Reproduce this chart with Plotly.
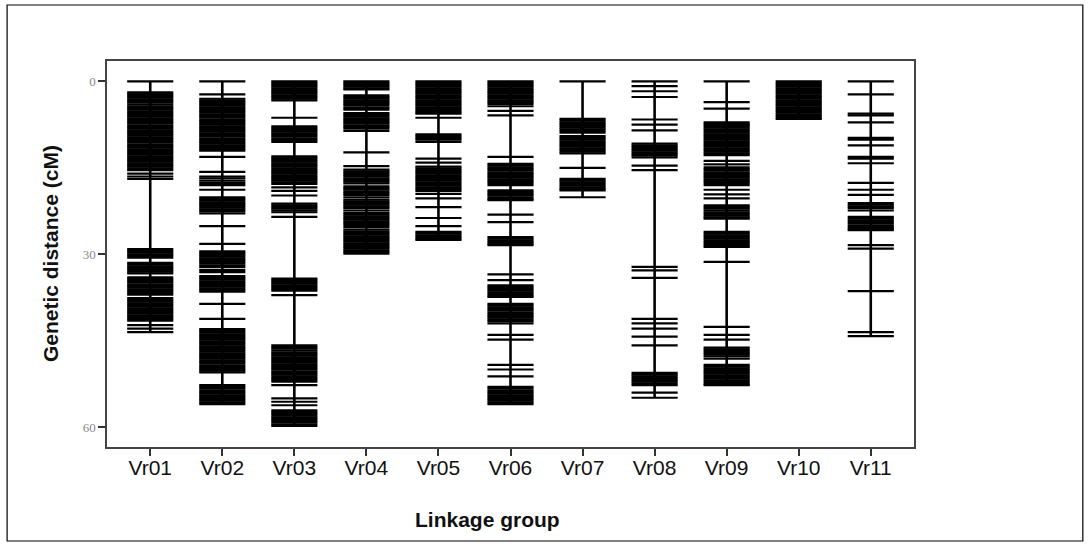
import plotly.graph_objects as go

groups = ["Vr01", "Vr02", "Vr03", "Vr04", "Vr05", "Vr06", "Vr07", "Vr08", "Vr09", "Vr10", "Vr11"]

vr01 = [0.0, 1.9, 2.2, 2.5, 2.8, 3.1, 3.4, 3.7, 4.0, 4.3, 4.6, 4.9, 5.2, 5.5, 5.8, 6.1, 6.4, 6.7, 7.0, 7.3,
        7.6, 7.9, 8.2, 8.5, 8.8, 9.1, 9.4, 9.7, 10.0, 10.3, 10.6, 10.9, 11.2, 11.5, 11.8, 12.1, 12.4, 12.7,
        13.0, 13.3, 13.6, 13.9, 14.2, 14.5, 14.8, 15.1, 15.4, 16.0, 16.5, 16.9, 29.1, 29.4, 29.7, 30.0, 30.3,
        30.6, 31.5, 31.8, 32.1, 32.4, 32.7, 33.0, 33.3, 34.0, 34.3, 34.6, 34.9, 35.2, 35.5, 35.8, 36.1, 36.4,
        36.7, 37.0, 37.6, 37.9, 38.2, 38.5, 38.8, 39.1, 39.4, 39.7, 40.0, 40.3, 40.6, 40.9, 41.2, 41.5, 42.3,
        42.9, 43.5]
vr02 = [0.0, 2.25, 3.0, 3.3, 3.6, 3.9, 4.2, 4.5, 4.8, 5.1, 5.4, 5.7, 6.0, 6.3, 6.6, 6.9, 7.2, 7.5, 7.8, 8.1,
        8.4, 8.7, 9.0, 9.3, 9.6, 9.9, 10.2, 10.5, 10.8, 11.1, 11.4, 11.7, 12.0, 13.1, 15.7, 16.5, 16.8, 17.2,
        17.6, 18.0, 18.8, 20.1, 20.4, 20.7, 21.0, 21.3, 21.6, 21.9, 22.2, 22.5, 22.9, 25.1, 28.2, 29.5, 29.8,
        30.1, 30.4, 30.7, 31.0, 31.3, 31.6, 31.9, 32.2, 32.7, 33.1, 33.8, 34.1, 34.4, 34.7, 35.0, 35.3, 35.6,
        35.9, 36.2, 36.5, 38.6, 41.2, 43.0, 43.3, 43.6, 43.9, 44.2, 44.5, 44.8, 45.1, 45.4, 45.7, 46.0, 46.3,
        46.6, 46.9, 47.2, 47.5, 47.8, 48.1, 48.4, 48.7, 49.0, 49.3, 49.6, 49.9, 50.2, 50.5, 52.7, 53.0, 53.3,
        53.6, 53.9, 54.2, 54.5, 54.8, 55.1, 55.4, 55.7, 56.0]
vr03 = [0.0, 0.3, 0.6, 0.9, 1.2, 1.5, 1.8, 2.1, 2.4, 2.7, 3.0, 3.3, 6.3, 7.8, 8.1, 8.4, 8.7, 9.0, 9.3, 9.6,
        9.9, 10.2, 10.5, 13.0, 13.3, 13.6, 13.9, 14.2, 14.5, 14.8, 15.1, 15.4, 15.7, 16.0, 16.3, 16.6, 16.9,
        17.2, 17.5, 17.8, 18.4, 19.0, 19.8, 21.2, 21.5, 21.8, 22.1, 22.4, 22.7, 23.5, 34.2, 34.5, 34.8, 35.1,
        35.4, 35.7, 36.0, 36.3, 37.1, 45.8, 46.1, 46.4, 46.7, 47.0, 47.3, 47.6, 47.9, 48.2, 48.5, 48.8, 49.1,
        49.4, 49.7, 50.0, 50.3, 50.6, 50.9, 51.2, 51.5, 51.8, 52.1, 52.7, 55.0, 55.6, 56.2, 57.1, 57.4, 57.7,
        58.0, 58.3, 58.6, 58.9, 59.2, 59.5, 59.8]
vr04 = [0.0, 0.3, 0.6, 0.9, 1.2, 1.4, 2.4, 2.7, 3.0, 3.3, 3.6, 3.9, 4.2, 4.6, 4.9, 5.5, 5.8, 6.1, 6.4, 6.7,
        7.0, 7.3, 7.6, 7.9, 8.2, 8.6, 12.3, 14.7, 15.3, 15.6, 15.9, 16.2, 16.5, 16.8, 17.1, 17.4, 17.7, 18.2,
        18.5, 18.8, 19.1, 19.4, 19.7, 20.1, 20.5, 20.8, 21.1, 21.4, 21.7, 22.0, 22.4, 22.8, 23.1, 23.4, 23.7,
        24.0, 24.3, 24.6, 24.9, 25.3, 25.7, 26.0, 26.3, 26.6, 26.9, 27.2, 27.5, 27.8, 28.1, 28.4, 28.7, 29.0,
        29.3, 29.6, 29.9]
vr05 = [0.0, 0.3, 0.6, 0.9, 1.2, 1.5, 1.8, 2.1, 2.4, 2.7, 3.0, 3.3, 3.6, 3.9, 4.2, 4.5, 4.8, 5.1, 5.4, 5.6,
        6.3, 9.2, 9.5, 9.8, 10.1, 10.5, 13.4, 14.1, 14.8, 15.1, 15.4, 15.7, 16.0, 16.3, 16.6, 16.9, 17.2,
        17.5, 17.8, 18.1, 18.4, 18.7, 19.0, 19.5, 20.3, 21.8, 23.7, 25.1, 26.1, 26.4, 26.7, 27.0, 27.3, 27.5]
vr06 = [0.0, 0.3, 0.6, 0.9, 1.2, 1.5, 1.8, 2.1, 2.4, 2.7, 3.0, 3.3, 3.6, 3.9, 4.3, 5.1, 5.9, 13.1, 14.3,
        14.6, 14.9, 15.2, 15.5, 15.8, 16.1, 16.4, 16.7, 17.0, 17.3, 17.6, 18.0, 18.9, 19.2, 19.5, 19.8, 20.1,
        20.4, 20.6, 23.1, 24.4, 27.0, 27.3, 27.6, 27.9, 28.2, 28.4, 33.5, 34.5, 35.4, 35.7, 36.0, 36.3, 36.6,
        36.9, 37.2, 37.4, 38.6, 38.9, 39.2, 39.5, 39.8, 40.1, 40.4, 40.7, 41.0, 41.3, 41.6, 42.0, 44.0, 44.8,
        49.2, 50.0, 51.2, 53.0, 53.3, 53.6, 53.9, 54.2, 54.5, 54.8, 55.1, 55.4, 55.7, 56.0]
vr07 = [0.0, 6.5, 6.8, 7.1, 7.4, 7.7, 8.0, 8.3, 8.6, 8.9, 9.5, 9.8, 10.1, 10.4, 10.7, 11.0, 11.3, 11.6,
        11.9, 12.2, 12.5, 15.0, 16.9, 17.2, 17.5, 17.8, 18.1, 18.4, 18.7, 18.9, 20.1]
vr08 = [0.0, 0.8, 1.7, 2.7, 6.6, 7.5, 8.5, 10.8, 11.1, 11.4, 11.7, 12.0, 12.3, 12.6, 12.9, 13.2, 14.6, 15.4,
        32.2, 32.8, 34.1, 41.2, 42.0, 42.9, 44.3, 45.8, 50.6, 50.9, 51.2, 51.5, 51.8, 52.1, 52.4, 52.7, 54.0,
        54.9]
vr09 = [0.0, 3.6, 4.7, 7.1, 7.4, 7.7, 8.0, 8.3, 8.6, 8.9, 9.2, 9.5, 9.8, 10.1, 10.4, 10.7, 11.0, 11.3, 11.6,
        11.9, 12.2, 12.5, 12.8, 13.8, 14.4, 14.9, 15.2, 15.5, 15.8, 16.1, 16.4, 16.7, 17.0, 17.3, 17.6, 18.0,
        18.8, 19.6, 20.3, 21.5, 21.8, 22.1, 22.4, 22.7, 23.0, 23.3, 23.6, 23.8, 26.1, 26.4, 26.7, 27.0, 27.3,
        27.6, 27.9, 28.2, 28.5, 28.7, 31.3, 42.6, 44.0, 44.8, 46.2, 46.5, 46.8, 47.1, 47.4, 47.7, 48.1, 49.2,
        49.5, 49.8, 50.1, 50.4, 50.7, 51.0, 51.3, 51.6, 51.9, 52.2, 52.5, 52.7]
vr10 = [0.0, 0.3, 0.6, 0.9, 1.2, 1.5, 1.8, 2.1, 2.4, 2.7, 3.0, 3.3, 3.6, 3.9, 4.2, 4.5, 4.8, 5.1, 5.4, 5.7,
        6.0, 6.3, 6.5]
vr11 = [0.0, 2.25, 5.6, 5.9, 7.1, 9.8, 10.1, 11.1, 13.1, 13.4, 14.2, 17.6, 18.8, 19.7, 21.1, 21.4, 21.7,
        22.0, 22.4, 23.5, 23.8, 24.1, 24.4, 24.7, 25.0, 25.3, 25.6, 25.8, 28.4, 29.0, 36.4, 43.5, 44.2]

markers = [vr01, vr02, vr03, vr04, vr05, vr06, vr07, vr08, vr09, vr10, vr11]
y_ticks = [0, 30, 60]

HALF = 0.32
fig = go.Figure()
for i, pos in enumerate(markers):
    # chromosome backbone
    fig.add_trace(go.Scatter(x=[i, i], y=[min(pos), max(pos)], mode="lines",
                             line=dict(color="black", width=2.6), hoverinfo="skip", showlegend=False))
    xs, ys = [], []
    for v in pos:
        xs += [i - HALF, i + HALF, None]
        ys += [v, v, None]
    fig.add_trace(go.Scatter(x=xs, y=ys, mode="lines", line=dict(color="black", width=2.2),
                             name=groups[i], showlegend=False))

fig.update_layout(
    width=1091, height=546,
    margin=dict(l=107, r=177, t=61, b=99),
    paper_bgcolor="white", plot_bgcolor="white",
    font=dict(family="Liberation Sans, Arial, sans-serif", color="#111"),
    xaxis=dict(range=[-0.6, 10.6], tickvals=list(range(len(groups))), ticktext=groups,
               showgrid=False, zeroline=False, showline=True, mirror=True, linecolor="#444", linewidth=1.5,
               ticks="outside", ticklen=7, tickwidth=1.8, tickcolor="#333", ticklabelstandoff=-6,
               tickfont=dict(size=21, color="#111", family="Liberation Sans, Arial, sans-serif")),
    yaxis=dict(range=[63.45, -3.55], tickvals=y_ticks, ticktext=[str(t) for t in y_ticks],
               showgrid=False, zeroline=False, showline=True, mirror=True, linecolor="#444", linewidth=1.5,
               ticks="outside", ticklen=7, tickwidth=1.8, tickcolor="#333",
               tickfont=dict(size=13, color="#888", family="Liberation Serif, Times New Roman, serif")),
    annotations=[
        dict(text="<b>Genetic distance (cM)</b>", xref="paper", yref="paper", x=-0.0705, y=0.5,
             textangle=-90, showarrow=False, xanchor="center", yanchor="middle",
             font=dict(size=21, color="#111")),
        dict(text="<b>Linkage group</b>", xref="paper", yref="paper", x=0.4715, y=-0.189,
             showarrow=False, xanchor="center", yanchor="middle",
             font=dict(size=21, color="#111")),
    ],
    shapes=[dict(type="rect", xref="paper", yref="paper", x0=-0.1238, x1=1.2092, y0=-0.2435, y1=1.1451,
                 line=dict(color="black", width=1.2), fillcolor="rgba(0,0,0,0)", layer="below")],
)

fig.write_html("out.html", config={"displayModeBar": False},
               post_script="document.body.style.margin='0';document.body.style.overflow='hidden';")
